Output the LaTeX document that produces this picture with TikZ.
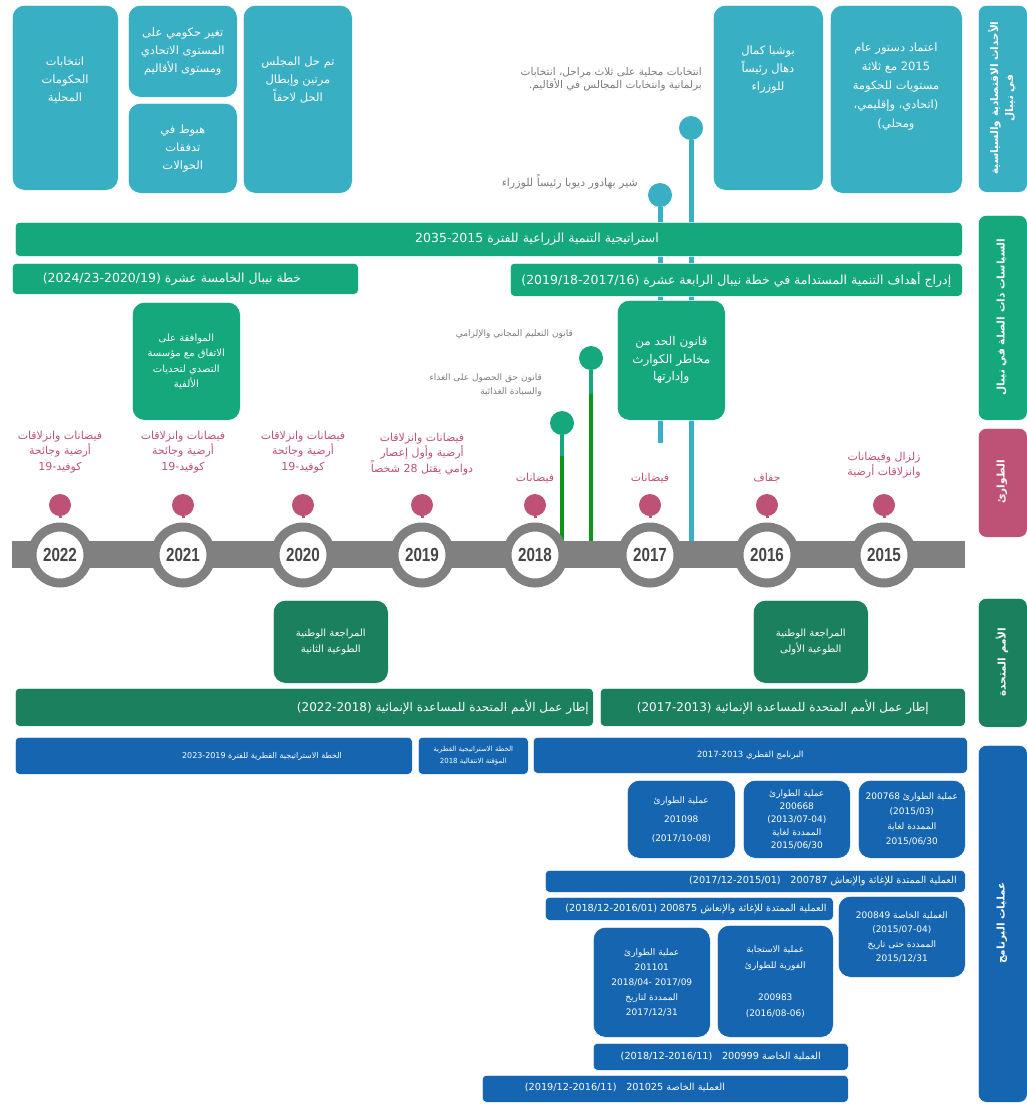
\documentclass[tikz,border=0pt]{standalone}
\usepackage{fontspec}
\setmainfont{DejaVu Sans}
\newfontfamily\arabicfont[Script=Arabic]{DejaVu Sans}
\newfontfamily\yearfont{Liberation Sans}
\TeXXeTstate=1
\newcommand\ar[1]{{\arabicfont\beginR #1\endR}}
\newcommand\nm[1]{\beginL #1\endL{}}
\newcommand\fza{\fontsize{11.5}{18}\selectfont}
\newcommand\fpol{\fontsize{12.5}{16}\selectfont}
\newcommand\fun{\fontsize{12}{16}\selectfont}
\newcommand\fprb{\fontsize{9.7}{14}\selectfont}
\newcommand\yr[1]{\scalebox{0.8}[1]{#1}}
\definecolor{cy}{RGB}{56,175,195}
\definecolor{gr}{RGB}{20,168,124}
\definecolor{dg}{RGB}{26,128,94}
\definecolor{pk}{RGB}{190,82,118}
\definecolor{bl}{RGB}{21,101,176}
\definecolor{tl}{RGB}{128,128,128}
\definecolor{lgr}{RGB}{12,150,24}
\definecolor{gtx}{RGB}{125,125,125}
\definecolor{yrc}{RGB}{70,70,70}
\newcommand\bx[7]{\node[#2, anchor=north west, minimum width={(#5-#3)*1pt}, minimum height={(#6-#4)*1pt}] (#1) at (#3,#4) {#7};}
\begin{document}
\begin{tikzpicture}[x=1pt,y=-1pt,
  rbox/.style={rounded corners=12pt, inner sep=0pt, align=center, text=white, draw=white, line width=0.6pt},
  sbar/.style={rounded corners=4pt, inner sep=0pt, align=center, text=white, draw=white, line width=0.6pt},
  wt/.style={align=center, text=white, inner sep=0pt},
  pintext/.style={align=right, text=gtx, inner sep=0pt, font=\fontsize{9}{14}\selectfont},
  dis/.style={align=center, text=pk, inner sep=0pt, font=\fontsize{11}{15.5}\selectfont},
  pinball/.style={circle, inner sep=0pt, minimum size=24pt},
  pinkpin/.style={circle, inner sep=0pt, minimum size=22pt, fill=pk},
  ring/.style={circle, fill=white, draw=tl, line width=9pt, minimum size=56pt, inner sep=0pt, text=yrc, font=\yearfont\bfseries\fontsize{19}{19}\selectfont},
  vlab/.style={rotate=90, align=center, text=white, inner sep=0pt, font=\bfseries\fontsize{10.5}{15}\selectfont},
]
\useasboundingbox (0,0) rectangle (1027,1104);
\fill[white] (0,0) rectangle (1027,1104);

% ---------- pins and their lines (behind everything) ----------
\node[pinball, fill=cy] (c1) at (691,128) {};
\node[pinball, fill=cy] (c2) at (660,195) {};
\coordinate (c1e) at (691,541);
\coordinate (c2e) at (660,443);
\draw[cy, line width=5pt] (c1) -- (c1e);
\draw[cy, line width=5pt] (c2) -- (c2e);
\node[pinball, fill=gr] (g1) at (591,358) {};
\node[pinball, fill=gr] (g2) at (562,423) {};
\coordinate (g1m) at (591,394); \coordinate (g1e) at (591,541);
\coordinate (g2m) at (562,456); \coordinate (g2e) at (562,541);
\draw[gr, line width=4pt] (g1) -- (g1m);
\draw[lgr, line width=4pt] (g1m) -- (g1e);
\draw[gr, line width=4pt] (g2) -- (g2m);
\draw[lgr, line width=4pt] (g2m) -- (g2e);

% ---------- economic / political events ----------
\bx{eA}{rbox, fill=cy}{12}{5}{118}{190}{}
\node[wt, font=\fza] (tA) at (65,80) {\ar{انتخابات}\\\ar{الحكومات}\\\ar{المحلية}};
\bx{eB}{rbox, fill=cy, font=\fza}{128}{5}{237}{97}{\ar{تغير حكومي على}\\\ar{المستوى الاتحادي}\\\ar{ومستوى الأقاليم}}
\bx{eC}{rbox, fill=cy, font=\fza}{128}{103}{237}{193}{\ar{هبوط في}\\\ar{تدفقات}\\\ar{الحوالات}}
\bx{eD}{rbox, fill=cy}{243}{5}{352}{193}{}
\node[wt, font=\fza] (tD) at (298,80) {\ar{تم حل المجلس}\\\ar{مرتين وإبطال}\\\ar{الحل لاحقاً}};
\bx{eE}{rbox, fill=cy}{713}{5}{823}{190}{}
\node[wt, font=\fza] (tE) at (768,70) {\ar{بوشبا كمال}\\\ar{دهال رئيساً}\\\ar{للوزراء}};
\bx{eF}{rbox, fill=cy}{830}{5}{962}{193}{}
\node[wt, font=\fontsize{11.5}{19}\selectfont] (tF) at (896,87) {\ar{اعتماد دستور عام}\\\ar{\nm{2015} مع ثلاثة}\\\ar{مستويات للحكومة}\\\ar{(اتحادي، وإقليمي،}\\\ar{ومحلي)}};
\node[pintext, anchor=east, font=\fontsize{10.5}{13}\selectfont] (tc1) at (702,79) {\ar{انتخابات محلية على ثلاث مراحل، انتخابات}\\\ar{برلمانية وانتخابات المجالس في الأقاليم.}};
\node[pintext, anchor=east, font=\fontsize{11}{13}\selectfont] (tc2) at (638,182) {\ar{شير بهادور ديوبا رئيساً للوزراء}};

% ---------- policies ----------
\bx{pA}{sbar, fill=gr}{15}{222}{962}{256}{}
\node[wt, font=\fpol] (tpA) at (537,239) {\ar{استراتيجية التنمية الزراعية للفترة \nm{2035-2015}}};
\bx{pB}{sbar, fill=gr}{12}{263}{358}{294}{}
\node[wt, font=\fpol] (tpB) at (172,279) {\ar{خطة نيبال الخامسة عشرة \nm{(2024/23-2020/19)}}};
\bx{pC}{sbar, fill=gr, font=\fpol}{510}{263}{962}{296}{\ar{إدراج أهداف التنمية المستدامة في خطة نيبال الرابعة عشرة \nm{(2019/18-2017/16)}}}
\bx{lA}{rbox, fill=gr, font=\fontsize{10}{15.5}\selectfont}{132}{302}{240}{420}{\ar{الموافقة على}\\\ar{الاتفاق مع مؤسسة}\\\ar{التصدي لتحديات}\\\ar{الألفية}}
\bx{lB}{rbox, fill=gr, font=\fontsize{12}{17.5}\selectfont}{617}{300}{725}{420}{\ar{قانون الحد من}\\\ar{مخاطر الكوارث}\\\ar{وإدارتها}}
\node[pintext, anchor=east] (tg1) at (573,334) {\ar{قانون التعليم المجاني والإلزامي}};
\node[pintext, anchor=east] (tg2) at (542,385) {\ar{قانون حق الحصول على الغذاء}\\\ar{والسيادة الغذائية}};

% ---------- timeline ----------
\bx{tline}{fill=tl, inner sep=0pt}{12}{541}{965}{568}{}
\foreach \yy/\xx in {2022/60,2021/183,2020/303,2019/422,2018/535,2017/650,2016/767,2015/884}{
  \node[pinkpin] (p\yy) at (\xx,505) {};
  \node[ring] (y\yy) at (\xx,555) {\yr{\yy}};
  \draw[pk, line width=3pt, shorten >=4.5pt] (p\yy) -- (y\yy);
}
\node[dis] (d2022) at (60,452) {\ar{فيضانات وانزلاقات}\\\ar{أرضية وجائحة}\\\ar{كوفيد-19}};
\node[dis] (d2021) at (183,452) {\ar{فيضانات وانزلاقات}\\\ar{أرضية وجائحة}\\\ar{كوفيد-19}};
\node[dis] (d2020) at (303,452) {\ar{فيضانات وانزلاقات}\\\ar{أرضية وجائحة}\\\ar{كوفيد-19}};
\node[dis] (d2019) at (422,454) {\ar{فيضانات وانزلاقات}\\\ar{أرضية وأول إعصار}\\\ar{دوامي يقتل \nm{28} شخصاً}};
\node[dis] (d2018) at (535,478) {\ar{فيضانات}};
\node[dis] (d2017) at (650,478) {\ar{فيضانات}};
\node[dis] (d2016) at (767,478) {\ar{جفاف}};
\node[dis] (d2015) at (884,465) {\ar{زلزال وفيضانات}\\\ar{وانزلاقات أرضية}};

% ---------- United Nations ----------
\bx{uA}{rbox, fill=dg, font=\fontsize{10}{16}\selectfont}{273}{600}{388}{683}{\ar{المراجعة الوطنية}\\\ar{الطوعية الثانية}}
\bx{uB}{rbox, fill=dg, font=\fontsize{10}{16}\selectfont}{753}{600}{868}{683}{\ar{المراجعة الوطنية}\\\ar{الطوعية الأولى}}
\bx{uC}{sbar, fill=dg}{15}{688}{593}{726}{}
\node[wt, font=\fun, anchor=east] (tuC) at (589,707) {\ar{إطار عمل الأمم المتحدة للمساعدة الإنمائية \nm{(2022-2018)}}};
\bx{uD}{sbar, fill=dg, font=\fun}{600}{688}{965}{726}{\ar{إطار عمل الأمم المتحدة للمساعدة الإنمائية \nm{(2017-2013)}}}

% ---------- programme operations ----------
\bx{bA}{sbar, fill=bl}{15}{737}{412}{774}{}
\node[wt, font=\fontsize{8}{12}\selectfont] (tbA) at (262,756) {\ar{الخطة الاستراتيجية القطرية للفترة \nm{2023-2019}}};
\bx{bB}{sbar, fill=bl, font=\fontsize{7}{12}\selectfont}{418}{737}{528}{774}{\ar{الخطة الاستراتيجية القطرية}\\\ar{المؤقتة الانتقالية \nm{2018}}}
\bx{bC}{sbar, fill=bl, font=\fontsize{8.5}{12}\selectfont}{533}{737}{967}{773}{\ar{البرنامج القطري \nm{2017-2013}}}
\bx{bD}{rbox, fill=bl, font=\fontsize{9}{19}\selectfont}{627}{780}{735}{858}{\ar{عملية الطوارئ}\\\nm{201098}\\\nm{(2017/10-08)}}
\bx{bE}{rbox, fill=bl, font=\fontsize{9}{13}\selectfont}{743}{780}{850}{858}{\ar{عملية الطوارئ}\\\nm{200668}\\\nm{(2013/07-04)}\\\ar{الممددة لغاية}\\\nm{2015/06/30}}
\bx{bF}{rbox, fill=bl, font=\fontsize{9}{15}\selectfont}{858}{780}{965}{858}{\ar{عملية الطوارئ \nm{200768}}\\\nm{(2015/03)}\\\ar{الممددة لغاية}\\\nm{2015/06/30}}
\bx{bG}{sbar, fill=bl}{545}{870}{965}{892}{}
\node[wt, font=\fprb, anchor=east] (tbG) at (957,881) {\ar{العملية الممتدة للإغاثة والإنعاش \nm{200787}\quad\nm{(2017/12-2015/01)}}};
\bx{bH}{sbar, fill=bl}{545}{897}{833}{920}{}
\node[wt, font=\fprb] (tbH) at (696,908.5) {\ar{العملية الممتدة للإغاثة والإنعاش \nm{200875} \nm{(2018/12-2016/01)}}};
\bx{bI}{rbox, fill=bl, font=\fontsize{9}{14.5}\selectfont}{838}{896}{965}{977}{\ar{العملية الخاصة \nm{200849}}\\\nm{(2015/07-04)}\\\ar{الممددة حتى تاريخ}\\\nm{2015/12/31}}
\bx{bJ}{rbox, fill=bl, font=\fontsize{9}{15}\selectfont}{593}{927}{710}{1037}{\ar{عملية الطوارئ}\\\nm{201101}\\\nm{2018/04- 2017/09}\\\ar{الممددة لتاريخ}\\\nm{2017/12/31}}
\bx{bK}{rbox, fill=bl, font=\fontsize{9}{16}\selectfont}{717}{925}{833}{1037}{\ar{عملية الاستجابة}\\\ar{الفورية للطوارئ}\\[16pt]\nm{200983}\\\nm{(2016/08-06)}}
\bx{bL}{sbar, fill=bl, font=\fprb}{593}{1043}{848}{1070}{\ar{العملية الخاصة \nm{200999}\quad\nm{(2018/12-2016/11)}}}
\bx{bM}{sbar, fill=bl}{482}{1075}{848}{1102}{}
\node[wt, font=\fprb] (tbM) at (625,1088) {\ar{العملية الخاصة \nm{201025}\quad\nm{(2019/12-2016/11)}}};

% ---------- row labels ----------
\bx{rA}{rbox, fill=cy, rounded corners=8pt}{978}{5}{1027}{192}{}
\node[vlab] (trA) at (1002,98) {\ar{الأحداث الاقتصادية والسياسية}\\\ar{في نيبال}};
\bx{rB}{rbox, fill=gr, rounded corners=8pt}{978}{215}{1027}{420}{}
\node[vlab] (trB) at (1002,317) {\ar{السياسات ذات الصلة في نيبال}};
\bx{rC}{rbox, fill=pk, rounded corners=8pt}{978}{428}{1027}{537}{}
\node[vlab] (trC) at (1002,482) {\ar{الطوارئ}};
\bx{rD}{rbox, fill=dg, rounded corners=8pt}{978}{598}{1027}{727}{}
\node[vlab] (trD) at (1002,662) {\ar{الأمم المتحدة}};
\bx{rE}{rbox, fill=bl, rounded corners=8pt}{978}{745}{1027}{1102}{}
\node[vlab] (trE) at (1002,923) {\ar{عمليات البرنامج}};
\end{tikzpicture}
\end{document}
